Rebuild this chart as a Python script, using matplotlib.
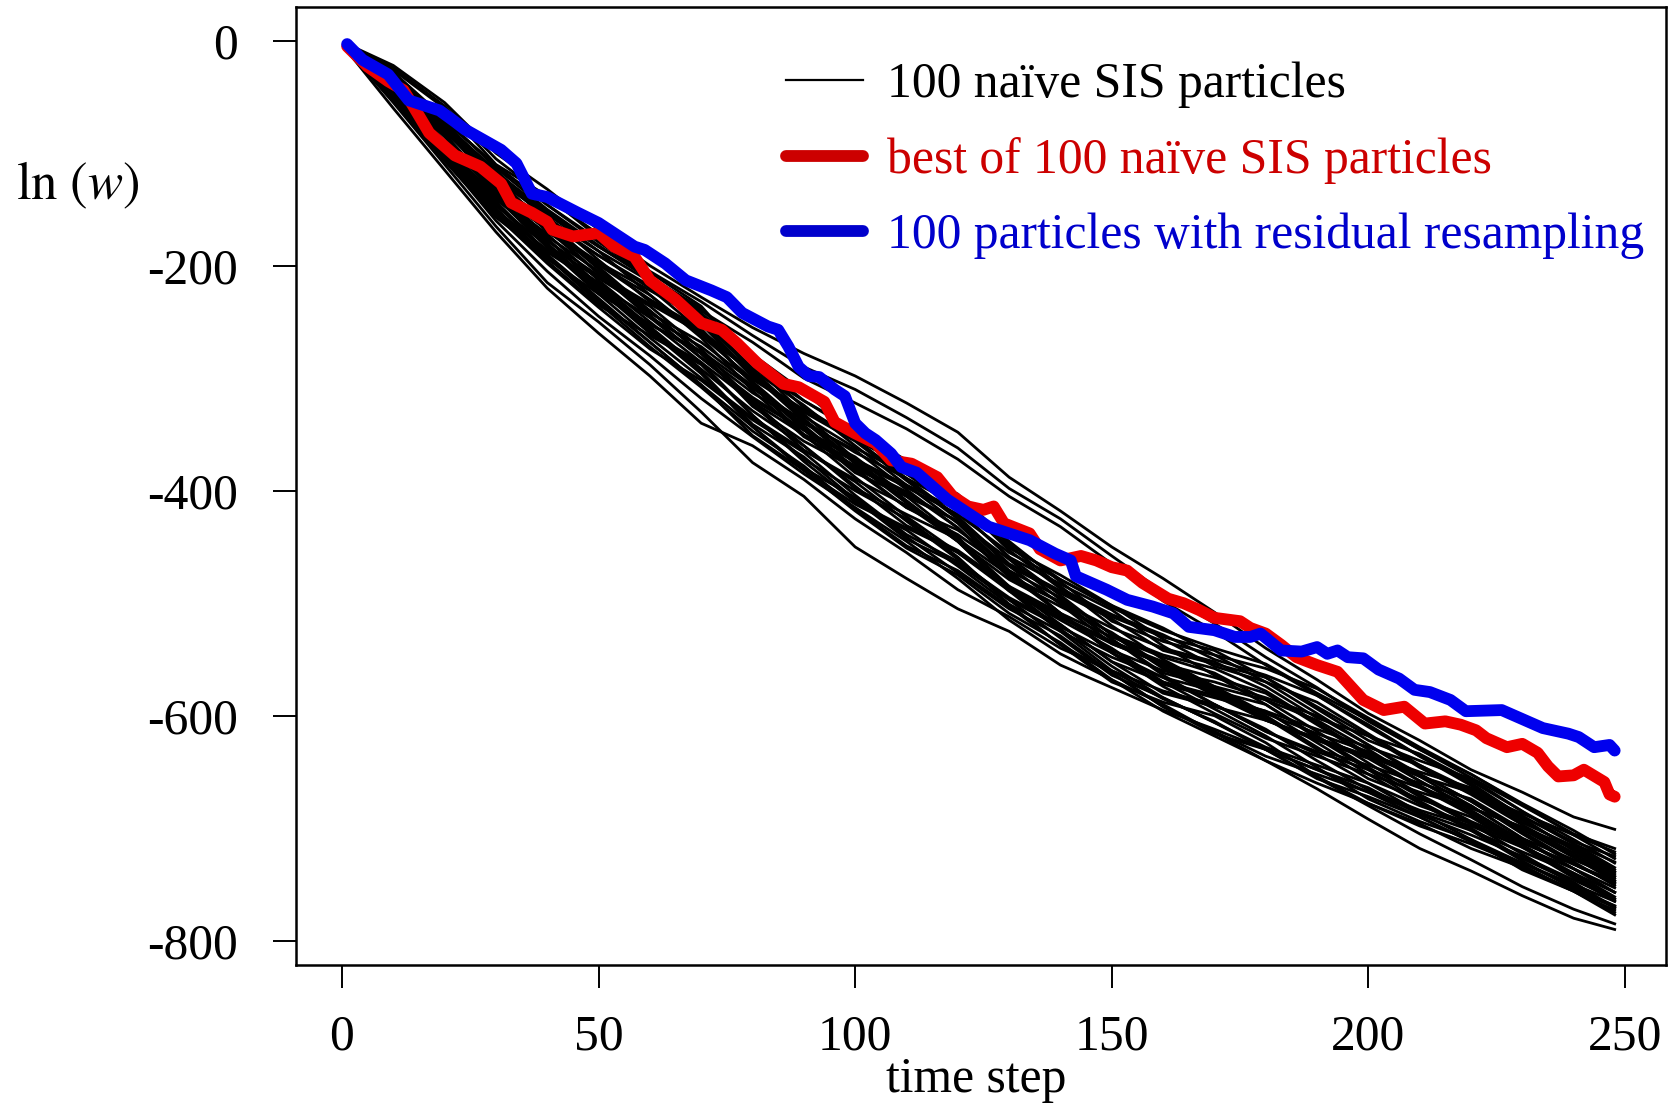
import matplotlib
matplotlib.use("Agg")
import matplotlib.pyplot as plt
from matplotlib.lines import Line2D

plt.rcParams['font.family'] = ['Liberation Serif', 'DejaVu Serif']
plt.rcParams['mathtext.fontset'] = 'stix'
plt.rcParams['axes.unicode_minus'] = False

steps = [1, 10, 20, 30, 40, 50, 60, 70, 80, 90, 100, 110, 120, 130,
         140, 150, 160, 170, 180, 190, 200, 210, 220, 230, 240, 248]

# naive SIS particles, ln(w) at the steps above
sis_paths = [
    [-3, -22, -55, -100, -132, -168, -200, -228, -255, -278, -298, -322, -348, -388, -418, -450, -478, -508, -540, -568, -598, -622, -648, -668, -690, -701],
    [-4, -24, -58, -105, -140, -172, -205, -232, -262, -290, -310, -335, -362, -398, -425, -458, -490, -518, -548, -575, -605, -630, -655, -680, -705, -718],
    [-5, -26, -60, -110, -138, -175, -210, -240, -268, -300, -322, -345, -372, -405, -432, -465, -498, -525, -555, -582, -610, -636, -660, -690, -712, -725],
    [-8, -55, -110, -165, -215, -250, -288, -330, -375, -405, -450, -478, -505, -525, -555, -575, -595, -612, -630, -648, -668, -690, -712, -735, -755, -770],
    [-7, -50, -105, -160, -205, -245, -280, -318, -352, -385, -415, -445, -478, -515, -545, -568, -590, -615, -640, -665, -692, -718, -738, -760, -780, -790],
    [-9, -60, -115, -170, -220, -260, -298, -340, -360, -390, -425, -455, -488, -512, -540, -560, -585, -605, -630, -655, -680, -705, -728, -752, -772, -785],
    [-4, -28, -69, -113, -150, -182, -212, -242, -283, -320, -348, -374, -407, -447, -479, -504, -524, -540, -554, -580, -604, -630, -652, -678, -702, -723],
    [-5, -32, -73, -123, -166, -197, -222, -248, -293, -334, -362, -385, -409, -453, -487, -510, -528, -550, -564, -582, -608, -636, -662, -689, -714, -730],
    [-6, -36, -79, -119, -154, -187, -226, -262, -301, -330, -356, -391, -425, -467, -491, -514, -542, -554, -566, -592, -618, -646, -670, -697, -722, -743],
    [-7, -40, -91, -135, -168, -199, -230, -256, -305, -344, -382, -415, -435, -467, -501, -536, -554, -566, -580, -608, -636, -654, -668, -687, -706, -721],
    [-8, -46, -97, -147, -182, -211, -240, -278, -325, -356, -380, -403, -427, -471, -509, -544, -572, -584, -596, -612, -628, -644, -668, -695, -716, -737],
    [-8, -50, -103, -153, -196, -235, -262, -288, -333, -374, -410, -433, -455, -487, -511, -534, -552, -576, -600, -628, -656, -674, -690, -717, -744, -765],
    [-6, -34, -77, -129, -176, -219, -258, -296, -343, -380, -406, -441, -473, -505, -529, -562, -592, -614, -636, -652, -668, -686, -702, -729, -754, -769],
    [-5, -30, -71, -111, -146, -177, -206, -236, -287, -332, -372, -409, -445, -489, -515, -540, -570, -594, -618, -646, -674, -694, -710, -731, -750, -765],
    [-7, -44, -89, -127, -160, -191, -218, -244, -279, -312, -350, -385, -417, -459, -483, -506, -538, -564, -590, -620, -648, -676, -700, -727, -748, -771],
    [-8, -52, -107, -157, -192, -233, -272, -308, -347, -378, -416, -449, -471, -503, -537, -570, -588, -600, -624, -654, -678, -696, -718, -735, -756, -773],
    [-6, -38, -83, -133, -178, -209, -236, -274, -321, -350, -374, -397, -421, -455, -479, -502, -522, -546, -570, -598, -626, -652, -676, -703, -730, -751],
    [-7, -48, -101, -141, -174, -205, -244, -282, -317, -346, -370, -405, -441, -487, -523, -556, -584, -606, -628, -644, -660, -686, -710, -737, -756, -775],
    [-5, -34, -85, -137, -182, -223, -252, -276, -309, -338, -366, -389, -413, -449, -485, -520, -550, -574, -598, -616, -632, -658, -682, -699, -718, -739],
    [-7, -42, -93, -145, -190, -229, -268, -306, -351, -382, -418, -451, -475, -509, -535, -568, -596, -618, -640, -660, -678, -698, -714, -733, -756, -777],
    [-4, -30, -73, -117, -160, -201, -240, -278, -313, -340, -364, -399, -433, -477, -499, -522, -540, -552, -574, -602, -618, -634, -658, -685, -710, -731],
    [-6, -46, -99, -151, -186, -215, -254, -292, -329, -360, -398, -421, -443, -475, -499, -532, -564, -590, -614, -632, -648, -664, -680, -709, -736, -757],
    [-5, -36, -77, -117, -152, -183, -212, -250, -297, -338, -376, -411, -445, -479, -503, -526, -556, -580, -604, -622, -638, -664, -688, -715, -740, -761],
    [-8, -54, -105, -155, -198, -237, -274, -302, -337, -366, -404, -439, -463, -495, -519, -552, -580, -592, -604, -620, -636, -662, -686, -713, -732, -749],
    [-6, -40, -81, -121, -154, -183, -210, -238, -285, -326, -354, -379, -403, -445, -481, -516, -534, -546, -558, -576, -602, -628, -652, -679, -706, -727],
    [-7, -44, -95, -137, -172, -213, -250, -286, -333, -372, -400, -425, -459, -501, -525, -548, -566, -578, -590, -618, -646, -672, -696, -723, -750, -771],
    [-6, -35, -75, -115, -158, -187, -214, -252, -299, -328, -354, -389, -423, -465, -489, -512, -530, -542, -566, -594, -622, -640, -656, -685, -714, -735],
    [-7, -43, -95, -139, -184, -225, -252, -278, -323, -364, -390, -413, -445, -489, -525, -560, -578, -590, -612, -640, -666, -684, -698, -717, -736, -753],
    [-5, -38, -89, -131, -164, -203, -242, -268, -303, -342, -380, -415, -439, -471, -495, -528, -558, -582, -604, -620, -636, -652, -676, -705, -732, -749],
    [-6, -32, -81, -123, -156, -195, -232, -258, -293, -324, -360, -395, -429, -473, -509, -542, -560, -570, -584, -600, -626, -654, -680, -709, -728, -743],
    [-8, -50, -101, -151, -194, -225, -264, -300, -335, -364, -392, -427, -461, -497, -521, -544, -574, -598, -620, -636, -652, -678, -702, -721, -740, -757],
    [-5, -36, -79, -121, -166, -207, -234, -260, -295, -336, -374, -409, -443, -485, -509, -530, -548, -562, -586, -614, -642, -670, -694, -713, -732, -747],
    [-7, -46, -91, -143, -188, -217, -256, -294, -341, -370, -408, -443, -465, -497, -531, -564, -584, -606, -630, -648, -664, -688, -706, -725, -746, -763],
    [-6, -38, -79, -129, -162, -191, -220, -258, -305, -346, -384, -405, -427, -461, -497, -532, -562, -574, -586, -604, -630, -658, -684, -711, -736, -757],
    [-7, -48, -99, -141, -176, -217, -246, -272, -307, -350, -388, -423, -455, -489, -513, -536, -554, -578, -602, -630, -644, -660, -674, -701, -726, -747],
    [-5, -32, -73, -125, -170, -199, -226, -264, -311, -352, -378, -401, -433, -475, -509, -544, -566, -590, -614, -634, -660, -680, -696, -715, -742, -763],
    [-6, -42, -85, -137, -180, -221, -260, -286, -321, -360, -396, -431, -453, -485, -519, -552, -570, -582, -596, -624, -652, -668, -682, -699, -724, -745],
    [-4, -28, -71, -111, -146, -179, -210, -246, -291, -320, -346, -373, -407, -451, -475, -502, -532, -556, -570, -588, -616, -644, -666, -693, -718, -739],
    [-7, -44, -97, -149, -192, -231, -268, -306, -343, -382, -412, -435, -467, -501, -537, -562, -592, -616, -630, -656, -672, -690, -712, -731, -752, -769],
    [-6, -40, -91, -133, -168, -207, -246, -282, -319, -346, -372, -395, -417, -459, -493, -528, -546, -558, -578, -606, -634, -650, -664, -691, -720, -741],
]

# best of the naive SIS particles
best_t = [1, 5, 9, 12, 14, 17, 22, 27, 31, 33, 37, 40, 41, 45, 50, 53, 57, 60, 65, 70,
          74, 77, 81, 86, 89, 94, 96, 100, 104, 107, 111, 116, 119, 122, 125, 127, 129,
          134, 136, 140, 144, 147, 150, 153, 156, 161, 164, 167, 170, 175, 177, 180, 183,
          186, 190, 194, 196, 199, 203, 207, 211, 215, 218, 221, 223, 227, 230, 233, 235,
          237, 240, 242, 246, 247, 248]
best_w = [-5, -23, -36, -44, -59, -82, -102, -112, -127, -144, -153, -161, -168, -174, -171,
          -183, -192, -213, -230, -251, -257, -269, -287, -305, -308, -321, -339, -349, -358,
          -373, -376, -388, -405, -414, -417, -414, -429, -438, -452, -462, -458, -462, -468,
          -471, -482, -496, -500, -506, -513, -516, -522, -527, -537, -548, -555, -561, -571,
          -586, -595, -592, -607, -605, -608, -613, -620, -628, -625, -633, -645, -654, -653,
          -648, -659, -670, -672]

# 100 particles with residual resampling
resamp_t = [1, 4, 9, 13, 19, 22, 24, 31, 34, 37, 40, 46, 50, 57, 59, 63, 67, 72, 75, 78,
            83, 85, 87, 89, 91, 93, 96, 98, 100, 102, 104, 107, 109, 112, 115, 118, 122,
            126, 130, 134, 139, 142, 143, 149, 153, 158, 162, 165, 170, 174, 177, 179, 183,
            187, 190, 192, 194, 196, 199, 202, 206, 209, 212, 216, 219, 226, 231, 234, 239,
            241, 244, 247, 248]
resamp_w = [-3, -17, -30, -53, -62, -72, -79, -97, -109, -136, -139, -153, -162, -183, -186,
            -198, -213, -222, -228, -242, -254, -257, -272, -290, -298, -299, -310, -316, -340,
            -349, -355, -367, -379, -384, -396, -408, -420, -432, -438, -444, -456, -462, -476,
            -488, -497, -503, -509, -521, -524, -530, -530, -527, -542, -543, -539, -545, -542,
            -548, -549, -559, -567, -577, -579, -586, -596, -595, -605, -611, -616, -619, -628,
            -626, -631]

labels = ['100 naïve SIS particles', 'best of 100 naïve SIS particles',
          '100 particles with residual resampling']

fs = 35.7
fig = plt.figure(figsize=(16.72, 11.04), dpi=100)
ax = fig.add_axes([296 / 1672, 1 - 965 / 1104, 1370 / 1672, 958 / 1104])

for p in sis_paths:
    ax.plot(steps, p, color='black', lw=2.0, zorder=2)
ax.plot(best_t, best_w, color='#ee0000', lw=8.5, solid_capstyle='round',
        solid_joinstyle='round', zorder=3)
ax.plot(resamp_t, resamp_w, color='#0000ee', lw=8.5, solid_capstyle='round',
        solid_joinstyle='round', zorder=4)

ax.set_xlim(-8.96, 258.0)
ax.set_ylim(-821.6, 29.96)
ax.set_xticks([0, 50, 100, 150, 200, 250])
ax.set_yticks([0, -200, -400, -600, -800])
ax.set_yticklabels(['0', '-200', '-400', '-600', '-800'])
ax.tick_params(axis='both', labelsize=fs, length=16.5, width=1.4, direction='out')
ax.tick_params(axis='x', pad=19)
ax.tick_params(axis='y', pad=25)
for s in ax.spines.values():
    s.set_linewidth(1.8)

handles = [Line2D([], [], color='black', lw=1.6),
           Line2D([], [], color='#cc0000', lw=8.5, solid_capstyle='round'),
           Line2D([], [], color='#0000cc', lw=8.5, solid_capstyle='round')]
ax.legend(handles, labels, loc='upper left',
          bbox_to_anchor=(786 / 1672, 1 - 62 / 1104), bbox_transform=fig.transFigure,
          frameon=False, fontsize=fs, handlelength=1.55, handletextpad=0.48,
          labelspacing=0.58, borderpad=0, borderaxespad=0,
          labelcolor=['black', '#cc0000', '#0000cc'])

fig.text(976 / 1672, 1 - 1080 / 1104, 'time step', ha='center', va='center', fontsize=fs)
fig.text(78 / 1672, 1 - 185 / 1104, r'$\ln\,(w)$', ha='center', va='center', fontsize=38)

fig.savefig('out.png', dpi=100)
